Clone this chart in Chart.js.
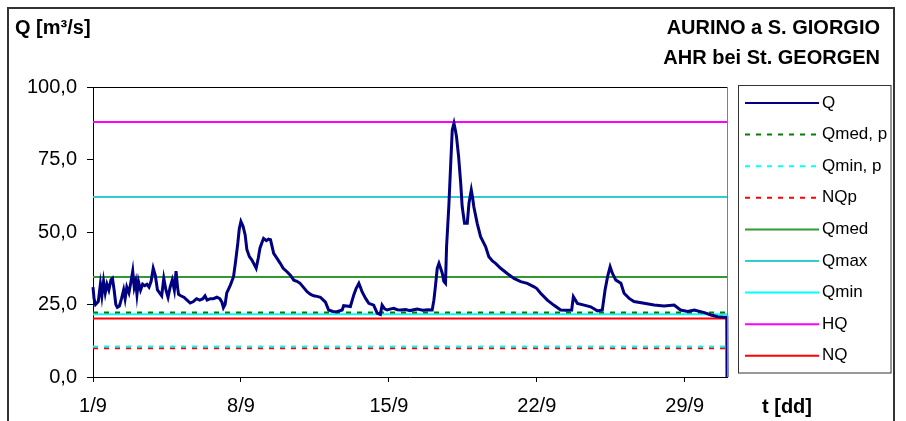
<!DOCTYPE html>
<html lang="it">
<head>
<meta charset="UTF-8">
<title>AURINO a S. GIORGIO</title>
<script src="https://cdn.jsdelivr.net/npm/chart.js"></script>
<style>
    body { margin: 0; background: #fff; }
    #wrap { width: 906px; height: 421px; position: relative; }
</style>
</head>
<body>
<div id="wrap"><canvas id="qChart"></canvas></div>
<script>
// series names in legend order
var seriesNames = ['Q', 'Qmed, p', 'Qmin, p', 'NQp', 'Qmed', 'Qmax', 'Qmin', 'HQ', 'NQ'];
// constant reference values for Qmed,p ... NQ (m3/s)
var refValues = [22.2, 10.5, 9.9, 34.5, 62.1, 21.6, 87.9, 20.2];

// measured discharge, day 0 = 1/9
var qDays = [0, 0.05, 0.12, 0.25, 0.35, 0.42, 0.5, 0.58, 0.66, 0.75, 0.85, 0.92, 1.0, 1.08, 1.15, 1.25, 1.35, 1.45, 1.52, 1.6,
    1.7, 1.8, 1.88, 1.95, 2.02, 2.08, 2.15, 2.25, 2.35, 2.45, 2.55, 2.65, 2.75, 2.85, 2.95, 3.05, 3.15, 3.25, 3.35, 3.45,
    3.55, 3.65, 3.75, 3.85, 3.93, 4.0, 4.05, 4.15, 4.3, 4.45, 4.6, 4.75, 4.9, 5.05, 5.2, 5.3, 5.4, 5.55, 5.7, 5.86,
    6.0, 6.1, 6.17, 6.25, 6.33, 6.5, 6.65, 6.75, 6.85, 6.92, 7.0, 7.1, 7.2, 7.28, 7.4, 7.52, 7.65, 7.72, 7.82, 7.9,
    8.0, 8.07, 8.2, 8.3, 8.4, 8.55, 8.7, 8.86, 9.0, 9.18, 9.35, 9.5, 9.65, 9.8, 9.95, 10.13, 10.3, 10.44, 10.6, 10.76,
    10.9, 11.0, 11.15, 11.35, 11.55, 11.79, 11.86, 12.0, 12.18, 12.34, 12.45, 12.58, 12.65, 12.73, 12.9, 13.05, 13.28, 13.45, 13.6, 13.68,
    13.8, 13.92, 14.1, 14.23, 14.4, 14.55, 14.8, 15.0, 15.34, 15.6, 15.85, 16.05, 16.13, 16.2, 16.29, 16.37, 16.45, 16.53, 16.6, 16.68,
    16.73, 16.84, 16.92, 17.0, 17.08, 17.15, 17.2, 17.3, 17.4, 17.47, 17.58, 17.71, 17.79, 17.9, 17.96, 18.02, 18.18, 18.34, 18.58, 18.73,
    18.9, 19.05, 19.29, 19.6, 19.92, 20.24, 20.55, 20.87, 21.0, 21.18, 21.5, 21.8, 22.13, 22.4, 22.65, 22.73, 22.92, 23.24, 23.55, 23.87,
    24.1, 24.23, 24.35, 24.47, 24.58, 24.74, 24.98, 25.13, 25.37, 25.6, 26.08, 26.55, 27.02, 27.5, 27.8, 28.14, 28.45, 28.93, 29.24, 29.56,
    29.87, 29.99, 30.0];
var qValues = [31, 27, 25, 26, 32, 28, 33, 29, 32, 30, 33.5, 34, 30, 25, 24, 24.5, 27, 30, 27, 31,
    29, 33, 36.5, 31, 33, 28.5, 33, 30, 32, 31.5, 32, 31, 33, 37.5, 35, 30, 29, 28, 34, 30,
    27.5, 31, 33.5, 30, 36.5, 31, 28.5, 28, 27.5, 26.5, 25.5, 26, 27, 26.5, 27, 28, 26.5, 27, 27, 27.5,
    27, 25.8, 23.9, 25, 29, 31.7, 34.6, 40, 46, 51, 53.6, 52, 49, 44, 41.5, 40.3, 38.5, 37.5, 41, 44.4,
    46.5, 47.8, 47, 47.5, 47.3, 42.6, 41, 39.2, 37.5, 36.3, 35, 33.4, 33, 32.3, 31, 29.4, 28.5, 28, 27.8, 27.5,
    26.5, 25.8, 23.1, 22.6, 22.5, 23.1, 24.6, 24.5, 24.3, 28.3, 30.5, 32.3, 31, 29.4, 27.1, 25.4, 24.8, 22, 21.6, 24.8,
    23.5, 23.1, 23.5, 23.7, 23.2, 23.1, 23.3, 22.9, 23.4, 23.0, 23.2, 23.1, 26.5, 31.1, 37.5, 39.2, 37.5, 35.7, 33, 32.3,
    44.9, 59.3, 72.5, 85.2, 87.5, 85, 82.9, 76, 66.8, 58.7, 53, 53, 59.9, 64.5, 62, 58.7, 53, 48.4, 44.9, 41.5,
    40, 39.2, 37.5, 35.7, 34, 32.9, 32.3, 31.1, 30.5, 28.9, 26.5, 24.8, 23.1, 23.0, 23.1, 27.7, 25.4, 24.8, 24.2, 22.8,
    23.1, 30, 34.6, 38, 35.7, 33.4, 32.3, 28.9, 27.1, 26, 25.4, 24.8, 24.5, 24.8, 23.1, 22.6, 23.1, 22.2, 21.4, 20.8,
    20.6, 20.6, 0];

var xTickValues = [0, 7, 14, 21, 28];
var xTickLabels = ['1/9', '8/9', '15/9', '22/9', '29/9'];
var yTickValues = [0, 25, 50, 75, 100];

// styles
var lineColors = ['#000080', '#008000', '#00FFFF', '#FF0000', '#339933', '#33CCCC', '#00FFFF', '#FF00FF', '#FF0000'];
var lineDashes = [[], [5, 6], [5, 6], [5, 6], [], [], [], [], []];
var FONT = 'Arial, "Liberation Sans", sans-serif';

var datasets = seriesNames.map(function (name, i) {
    var pts;
    if (i === 0) {
        pts = qDays.map(function (d, k) { return { x: d, y: qValues[k] }; });
    } else {
        pts = [{ x: 0, y: refValues[i - 1] }, { x: 30, y: refValues[i - 1] }];
    }
    return {
        label: name,
        data: pts,
        borderColor: lineColors[i],
        borderWidth: i === 0 ? 3 : 2,
        borderDash: lineDashes[i],
        pointRadius: 0,
        tension: 0,
        fill: false,
        clip: false
    };
});

var decorPlugin = {
    id: 'decor',
    beforeDraw: function (chart) {
        var ctx = chart.ctx;
        ctx.save();
        ctx.fillStyle = '#fff';
        ctx.fillRect(0, 0, chart.width, chart.height);
        ctx.restore();
    },
    afterDraw: function (chart) {
        var ctx = chart.ctx;
        var a = chart.chartArea;
        ctx.save();
        // plot frame top / right
        ctx.lineWidth = 1;
        ctx.strokeStyle = '#000';
        ctx.beginPath();
        ctx.moveTo(a.left, a.top + 0.5);
        ctx.lineTo(a.right, a.top + 0.5);
        ctx.stroke();
        ctx.strokeStyle = '#808080';
        ctx.beginPath();
        ctx.moveTo(a.right + 0.5, a.top);
        ctx.lineTo(a.right + 0.5, a.bottom);
        ctx.stroke();

        // outer frame
        ctx.lineWidth = 2;
        ctx.strokeStyle = '#333';
        ctx.strokeRect(8, 8, 886, 440);

        // texts
        ctx.fillStyle = '#000';
        ctx.font = 'bold 20px ' + FONT;
        ctx.textBaseline = 'middle';
        ctx.textAlign = 'left';
        ctx.fillText('Q [m³/s]', 15, 28);
        ctx.fillText('t [dd]', 762, 407);
        ctx.textAlign = 'right';
        ctx.fillText('AURINO a S. GIORGIO', 880, 28);
        ctx.fillText('AHR bei St. GEORGEN', 880, 58);

        // legend
        ctx.lineWidth = 1;
        ctx.strokeStyle = '#333';
        ctx.strokeRect(738.5, 85.5, 152.5, 287.5);
        ctx.font = '17px ' + FONT;
        ctx.textAlign = 'left';
        chart.data.datasets.forEach(function (ds, i) {
            var y = 103 + i * 31.6;
            ctx.save();
            ctx.strokeStyle = ds.borderColor;
            ctx.lineWidth = 2;
            ctx.setLineDash(ds.borderDash);
            ctx.beginPath();
            ctx.moveTo(745, y);
            ctx.lineTo(819, y);
            ctx.stroke();
            ctx.restore();
            ctx.fillText(ds.label, 822, y);
        });
        ctx.restore();
    }
};

new Chart(document.getElementById('qChart'), {
    type: 'line',
    data: { datasets: datasets },
    options: {
        responsive: true,
        maintainAspectRatio: false,
        animation: false,
        layout: { padding: { top: 87, right: 179, bottom: 0, left: 0 } },
        plugins: {
            legend: { display: false },
            title: { display: false },
            tooltip: { enabled: false }
        },
        scales: {
            x: {
                type: 'linear',
                min: 0,
                max: 30,
                afterBuildTicks: function (s) { s.ticks = xTickValues.map(function (v) { return { value: v }; }); },
                afterFit: function (s) { s.height = 44; },
                ticks: {
                    autoSkip: false,
                    maxRotation: 0,
                    padding: 12,
                    color: '#000',
                    font: { family: FONT, size: 20 },
                    callback: function (v, i) { return xTickLabels[i]; }
                },
                grid: { drawOnChartArea: false, tickLength: 5, color: '#000' },
                border: { color: '#000', width: 1 }
            },
            y: {
                min: 0,
                max: 100,
                afterBuildTicks: function (s) { s.ticks = yTickValues.map(function (v) { return { value: v }; }); },
                afterFit: function (s) { s.width = 93; },
                ticks: {
                    padding: 10,
                    color: '#000',
                    font: { family: FONT, size: 20 },
                    callback: function (v) { return v.toFixed(1).replace('.', ','); }
                },
                grid: { drawOnChartArea: false, tickLength: 6, color: '#000' },
                border: { color: '#000', width: 1 }
            }
        }
    },
    plugins: [decorPlugin]
});
</script>
</body>
</html>
